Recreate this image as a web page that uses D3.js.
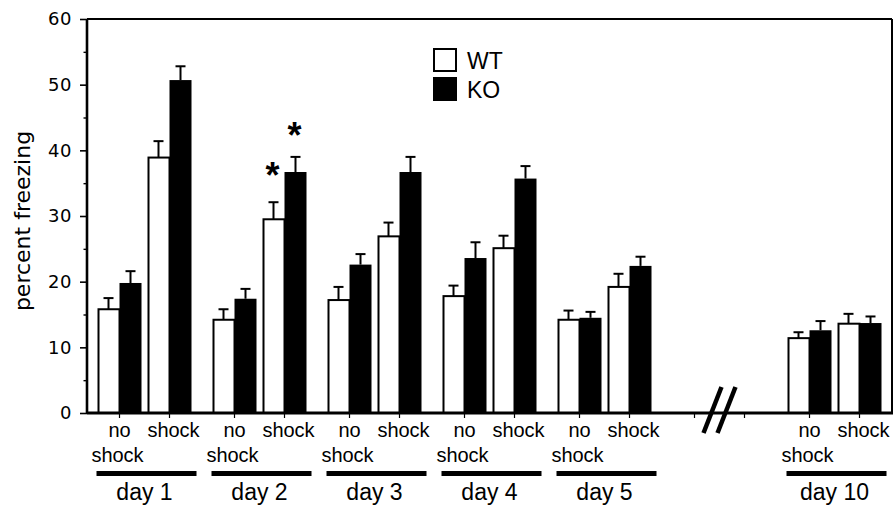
<!DOCTYPE html>
<html>
<head>
<meta charset="utf-8">
<script src="https://cdn.jsdelivr.net/npm/d3@7"></script>
<style>
  body { margin: 0; background: #fff; }
  text { fill: #000; }
</style>
</head>
<body>
<div id="chart"></div>
<script>
// slots along the x axis ("break" is the empty gap before day 10)
var slots = ["day 1", "day 2", "day 3", "day 4", "day 5", "break", "day 10"];
var days = ["day 1", "day 2", "day 3", "day 4", "day 5", "day 10"];
var conditions = ["no shock", "shock"];
var genotypes = ["WT", "KO"];

// one value per day x condition, in the order of days then conditions
var wtMean = [15.8, 38.9, 14.2, 29.5, 17.2, 26.9, 17.8, 25.1, 14.2, 19.2, 11.4, 13.6];
var wtErr  = [1.7, 2.5, 1.6, 2.6, 2.0, 2.1, 1.6, 1.9, 1.4, 2.0, 0.9, 1.5];
var koMean = [19.8, 50.7, 17.4, 36.7, 22.6, 36.7, 23.6, 35.7, 14.5, 22.4, 12.6, 13.7];
var koErr  = [1.8, 2.1, 1.5, 2.3, 1.6, 2.3, 2.4, 1.9, 0.9, 1.4, 1.4, 1.0];

// significance marks: [day, condition, genotype, y value]
var stars = [["day 2", "shock", "WT", 37.5], ["day 2", "shock", "KO", 43.7]];

var yTicks = [0, 10, 20, 30, 40, 50, 60];
var yMinor = [5, 15, 25, 35, 45, 55];

var width = 893,
    height = 508,
    plotLeft = 87,
    plotRight = 892,
    plotTop = 19,
    plotBottom = 413,
    barWidth = 22;

var svg = d3.select("#chart").append("svg")
    .attr("width", width)
    .attr("height", height);

var x = d3.scaleBand().domain(slots).range([plotLeft, plotRight]);
var xc = d3.scaleBand().domain(conditions).range([7.5, x.bandwidth() - 7.5]);
var y = d3.scaleLinear().domain([0, 60]).range([plotBottom, plotTop]);

function cx(day, cond) {
    return x(day) + xc(cond) + xc.bandwidth() / 2;
}

var bars = [];
days.forEach(function(day, i) {
    conditions.forEach(function(cond, j) {
        var k = i * 2 + j;
        bars.push({day: day, cond: cond, geno: "WT", mean: wtMean[k], err: wtErr[k]});
        bars.push({day: day, cond: cond, geno: "KO", mean: koMean[k], err: koErr[k]});
    });
});

function barX(d) {
    return d.geno == "WT" ? cx(d.day, d.cond) - barWidth : cx(d.day, d.cond);
}

// error bars (upper only)
var eb = svg.append("g").attr("stroke", "#000").attr("stroke-width", 2);
eb.selectAll(".stem").data(bars).enter().append("line")
    .attr("x1", function(d) { return barX(d) + barWidth / 2; })
    .attr("x2", function(d) { return barX(d) + barWidth / 2; })
    .attr("y1", function(d) { return y(d.mean); })
    .attr("y2", function(d) { return y(d.mean + d.err); });
eb.selectAll(".cap").data(bars).enter().append("line")
    .attr("x1", function(d) { return barX(d) + barWidth / 2 - 5; })
    .attr("x2", function(d) { return barX(d) + barWidth / 2 + 5; })
    .attr("y1", function(d) { return y(d.mean + d.err); })
    .attr("y2", function(d) { return y(d.mean + d.err); });

svg.append("g").selectAll("rect").data(bars).enter().append("rect")
    .attr("x", function(d) { return barX(d) + (d.geno == "WT" ? 1 : 0); })
    .attr("y", function(d) { return y(d.mean); })
    .attr("width", function(d) { return d.geno == "WT" ? barWidth - 1 : barWidth; })
    .attr("height", function(d) { return plotBottom - y(d.mean); })
    .attr("fill", function(d) { return d.geno == "WT" ? "#fff" : "#000"; })
    .attr("stroke", "#000")
    .attr("stroke-width", function(d) { return d.geno == "WT" ? 2 : 0; });

// stars
svg.append("g").selectAll("text").data(stars).enter().append("text")
    .attr("x", function(d) { return cx(d[0], d[1]) + (d[2] == "WT" ? -barWidth / 2 : barWidth / 2) - 1; })
    .attr("y", function(d) { return y(d[3]); })
    .attr("dy", "0.6em")
    .attr("text-anchor", "middle")
    .style("font-family", "Liberation Sans, Arial, sans-serif")
    .style("font-weight", "bold")
    .style("font-size", "36px")
    .text("*");

// y axis ticks
var yAxis = d3.axisLeft(y).tickValues(yTicks).tickSize(7).tickPadding(8);
var gy = svg.append("g").attr("transform", "translate(" + plotLeft + ",0)").call(yAxis);
gy.select(".domain").remove();
gy.selectAll("line").attr("stroke-width", 1.6);
gy.selectAll("text")
    .style("font-family", "DejaVu Sans, Verdana, sans-serif")
    .style("font-size", "18px")
    .style("letter-spacing", "0.5px")
    .attr("fill", "#000");

var gyMinor = svg.append("g").attr("transform", "translate(" + plotLeft + ",0)")
    .call(d3.axisLeft(y).tickValues(yMinor).tickSize(3.5).tickFormat(""));
gyMinor.select(".domain").remove();
gyMinor.selectAll("line").attr("stroke-width", 1.4);

// x ticks at each condition, including the empty break slot
var ticks = [];
slots.forEach(function(s) { conditions.forEach(function(c) { ticks.push(cx(s, c)); }); });
svg.append("g").selectAll("line").data(ticks).enter().append("line")
    .attr("x1", function(d) { return d; })
    .attr("x2", function(d) { return d; })
    .attr("y1", plotBottom)
    .attr("y2", plotBottom + 5)
    .attr("stroke", "#000")
    .attr("stroke-width", 1.2);

// frame
svg.append("line").attr("x1", plotLeft).attr("x2", plotRight).attr("y1", plotTop).attr("y2", plotTop)
    .attr("stroke", "#000").attr("stroke-width", 1.8);
svg.append("line").attr("x1", plotRight).attr("x2", plotRight).attr("y1", plotTop).attr("y2", plotBottom)
    .attr("stroke", "#000").attr("stroke-width", 2);
svg.append("line").attr("x1", plotLeft).attr("x2", plotLeft).attr("y1", plotTop).attr("y2", plotBottom + 1)
    .attr("stroke", "#000").attr("stroke-width", 2.6);
svg.append("line").attr("x1", plotLeft).attr("x2", plotRight + 1).attr("y1", plotBottom).attr("y2", plotBottom)
    .attr("stroke", "#000").attr("stroke-width", 2.8);

// axis break marks
var bc = x("break") + x.bandwidth() / 2;
svg.append("g").selectAll("line").data([-7, 7]).enter().append("line")
    .attr("x1", function(d) { return bc + d - 9; })
    .attr("x2", function(d) { return bc + d + 9; })
    .attr("y1", plotBottom + 20)
    .attr("y2", plotBottom - 26)
    .attr("stroke", "#000")
    .attr("stroke-width", 4.5);

// condition labels
var labelFont = "Liberation Sans, Arial, Helvetica, sans-serif";
var cl = svg.append("g").style("font-family", labelFont).style("font-size", "20px")
    .attr("text-anchor", "middle");
days.forEach(function(day) {
    cl.append("text").attr("x", cx(day, "no shock")).attr("y", plotBottom + 24).text("no");
    cl.append("text").attr("x", cx(day, "no shock") - 2).attr("y", plotBottom + 49).text("shock");
    cl.append("text").attr("x", cx(day, "shock") + 4).attr("y", plotBottom + 24).text("shock");
});

// day underlines and labels
var dl = svg.append("g");
dl.selectAll("rect").data(days).enter().append("rect")
    .attr("x", function(d) { return x(d) + x.bandwidth() / 2 - 50 + 2; })
    .attr("y", 471)
    .attr("width", 100)
    .attr("height", 5)
    .attr("fill", "#000");
dl.selectAll("text").data(days).enter().append("text")
    .attr("x", function(d) { return x(d) + x.bandwidth() / 2; })
    .attr("y", 500)
    .attr("text-anchor", "middle")
    .style("font-family", labelFont)
    .style("font-size", "23px")
    .text(function(d) { return d; });

// y label
svg.append("text")
    .attr("transform", "translate(30," + ((plotTop + plotBottom) / 2 + 5) + ") rotate(-90)")
    .attr("text-anchor", "middle")
    .style("font-family", "DejaVu Sans, Verdana, sans-serif")
    .style("font-size", "22px")
    .text("percent freezing");

// legend
var legend = svg.append("g").attr("transform", "translate(433,48)");
legend.selectAll("rect").data(genotypes).enter().append("rect")
    .attr("x", 1)
    .attr("y", function(d, i) { return i * 29 + 1; })
    .attr("width", 22)
    .attr("height", 22)
    .attr("fill", function(d) { return d == "WT" ? "#fff" : "#000"; })
    .attr("stroke", "#000")
    .attr("stroke-width", 2);
legend.selectAll("text").data(genotypes).enter().append("text")
    .attr("x", 34)
    .attr("y", function(d, i) { return i * 29 + 21; })
    .style("font-family", labelFont)
    .style("font-size", "23px")
    .text(function(d) { return d; });
</script>
</body>
</html>
